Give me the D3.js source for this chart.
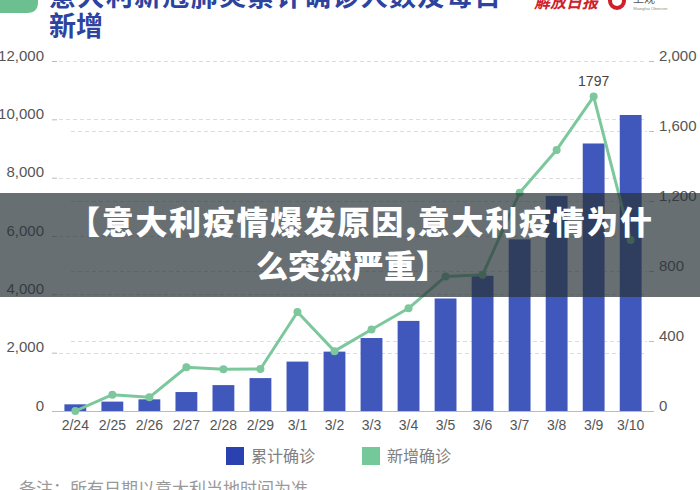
<!DOCTYPE html>
<html>
<head>
<meta charset="utf-8">
<script src="https://cdn.jsdelivr.net/npm/d3@7"></script>
<style>
  body { margin: 0; background: #fff; }
  svg { display: block; font-family: "Liberation Sans", "Noto Sans CJK SC", sans-serif; }
</style>
</head>
<body>
<div id="chart"></div>
<script>
// data
var dates = ["2/24","2/25","2/26","2/27","2/28","2/29","3/1","3/2","3/3","3/4","3/5","3/6","3/7","3/8","3/9","3/10"]
var totalCases = [229, 322, 400, 650, 888, 1128, 1694, 2036, 2502, 3089, 3858, 4636, 5883, 7375, 9172, 10149]
var newCases = [0, 93, 78, 250, 238, 240, 566, 342, 466, 587, 769, 778, 1247, 1492, 1797, 977]
var leftTicks = [0, 2000, 4000, 6000, 8000, 10000, 12000]
var rightTicks = [0, 400, 800, 1200, 1600, 2000]
var legendNames = ["累计确诊", "新增确诊"]

var W = 700, H = 490
var plot = {left: 57, right: 649, top: 61, bottom: 411}
var barColor = "#4058bc"
var lineColor = "#7cc89c"

var svg = d3.select("#chart").append("svg")
    .attr("width", W)
    .attr("height", H)

// header: title (cut at the top) and logos
svg.append("path")
    .attr("d", "M0,0 H38 V2 Q38,13 27,13 H0 Z")
    .attr("fill", "#6cc08f")

var title = svg.append("g")
    .attr("fill", "#2c43a0")
    .style("font-family", "'Noto Sans CJK SC', sans-serif")
    .style("font-weight", "700")
    .style("font-size", "27px")
title.append("text").attr("x", 49).attr("y", 6).attr("textLength", 452).text("意大利新冠肺炎累计确诊人数及每日")
title.append("text").attr("x", 49).attr("y", 36).text("新增")

svg.append("text")
    .attr("x", 534).attr("y", 8)
    .attr("fill", "#d0202a")
    .style("font-family", "'Noto Sans CJK SC', sans-serif")
    .style("font-style", "italic")
    .style("font-weight", "700")
    .style("font-size", "16px")
    .text("解放日报")
svg.append("circle")
    .attr("cx", 617).attr("cy", 1).attr("r", 7)
    .attr("fill", "none").attr("stroke", "#d0202a").attr("stroke-width", 4)
svg.append("text")
    .attr("x", 633).attr("y", 3)
    .attr("fill", "#555")
    .style("font-family", "'Noto Sans CJK SC', sans-serif")
    .style("font-size", "11px")
    .text("上观")
svg.append("text")
    .attr("x", 633).attr("y", 10)
    .attr("fill", "#888")
    .style("font-size", "4px")
    .text("Shanghai Observer")

// scales
var x = d3.scaleBand()
    .domain(dates)
    .range([plot.left, plot.right])
    .paddingInner(0.41)
    .paddingOuter(0.2)
var yLeft = d3.scaleLinear().domain([0, 12000]).range([plot.bottom, plot.top])
var yRight = d3.scaleLinear().domain([0, 2000]).range([plot.bottom, plot.top])

// dashed grid lines for both axes
var grid = svg.append("g")
    .attr("stroke", "#dcdcdc")
    .attr("stroke-dasharray", "4,3")
grid.selectAll(".gl").data(leftTicks.slice(1)).enter().append("line")
    .attr("x1", plot.left + 2).attr("x2", plot.right - 2)
    .attr("y1", function(d) { return Math.round(yLeft(d)) + 0.5 })
    .attr("y2", function(d) { return Math.round(yLeft(d)) + 0.5 })
grid.selectAll(".gr").data(rightTicks.slice(1, -1)).enter().append("line")
    .attr("x1", plot.left + 14).attr("x2", plot.right - 2)
    .attr("y1", function(d) { return Math.round(yRight(d)) + 0.5 })
    .attr("y2", function(d) { return Math.round(yRight(d)) + 0.5 })

// axes
var fmt = d3.format(",")
var leftAxis = svg.append("g")
    .attr("transform", "translate(" + plot.left + ",0)")
    .call(d3.axisLeft(yLeft).tickValues(leftTicks).tickFormat(fmt).tickSize(5).tickPadding(8))
var rightAxis = svg.append("g")
    .attr("transform", "translate(" + plot.right + ",0)")
    .call(d3.axisRight(yRight).tickValues(rightTicks).tickFormat(fmt).tickSize(5).tickPadding(5))
;[leftAxis, rightAxis].forEach(function(ax) {
    ax.select(".domain").remove()
    ax.selectAll(".tick line").attr("stroke", "#bbb")
    ax.selectAll(".tick text")
        .attr("fill", "#555")
        .attr("dy", "-0.05em")
        .style("font-size", "15px")
})

// bars
svg.append("g").selectAll("rect")
    .data(totalCases)
    .enter()
    .append("rect")
    .attr("x", function(d, i) { return x(dates[i]) })
    .attr("y", function(d) { return yLeft(d) })
    .attr("width", x.bandwidth())
    .attr("height", function(d) { return plot.bottom - yLeft(d) })
    .attr("fill", barColor)

// x axis baseline + labels
svg.append("line")
    .attr("x1", plot.left).attr("x2", plot.right + 3)
    .attr("y1", plot.bottom + 0.5).attr("y2", plot.bottom + 0.5)
    .attr("stroke", "#bbb")
svg.append("g").selectAll("text")
    .data(dates)
    .enter()
    .append("text")
    .attr("x", function(d) { return x(d) + x.bandwidth() / 2 })
    .attr("y", 430)
    .attr("text-anchor", "middle")
    .attr("fill", "#555")
    .style("font-size", "14px")
    .text(function(d) { return d })

// new cases line
var line = d3.line()
    .x(function(d, i) { return x(dates[i]) + x.bandwidth() / 2 })
    .y(function(d) { return yRight(d) })
svg.append("path")
    .datum(newCases)
    .attr("d", line)
    .attr("fill", "none")
    .attr("stroke", lineColor)
    .attr("stroke-width", 3)
    .attr("stroke-linejoin", "round")
svg.append("g").selectAll("circle")
    .data(newCases)
    .enter()
    .append("circle")
    .attr("cx", function(d, i) { return x(dates[i]) + x.bandwidth() / 2 })
    .attr("cy", function(d) { return yRight(d) })
    .attr("r", 4)
    .attr("fill", lineColor)

var peak = d3.maxIndex(newCases)
svg.append("text")
    .attr("x", x(dates[peak]) + x.bandwidth() / 2)
    .attr("y", yRight(newCases[peak]) - 11)
    .attr("text-anchor", "middle")
    .attr("fill", "#444")
    .style("font-size", "14px")
    .text(newCases[peak])

// legend
var legend = svg.append("g")
var legendX = [226, 362]
var legendColors = ["#2a42b0", "#74c89a"]
legendNames.forEach(function(name, i) {
    legend.append("rect")
        .attr("x", legendX[i]).attr("y", 447)
        .attr("width", 18).attr("height", 18)
        .attr("fill", legendColors[i])
    legend.append("text")
        .attr("x", legendX[i] + 25).attr("y", 462)
        .attr("fill", "#808080")
        .style("font-family", "'Noto Sans CJK SC', sans-serif")
        .style("font-size", "16px")
        .text(name)
})

// note (cut at bottom)
svg.append("text")
    .attr("x", 19).attr("y", 495)
    .attr("fill", "#999")
    .style("font-family", "'Noto Sans CJK SC', sans-serif")
    .style("font-size", "17px")
    .text("备注：所有日期以意大利当地时间为准")

// overlay banner
svg.append("rect")
    .attr("x", 0).attr("y", 193)
    .attr("width", W).attr("height", 104)
    .attr("fill", "rgba(40,50,56,0.7)")
var banner = svg.append("g")
    .attr("fill", "#fff")
    .attr("text-anchor", "middle")
    .style("font-family", "'Noto Sans CJK SC', sans-serif")
    .style("font-weight", "900")
    .style("font-size", "32px")
banner.append("text").attr("x", 360).attr("y", 234).attr("textLength", 584).text("【意大利疫情爆发原因,意大利疫情为什")
banner.append("text").attr("x", 352).attr("y", 278).text("么突然严重】")
</script>
</body>
</html>
